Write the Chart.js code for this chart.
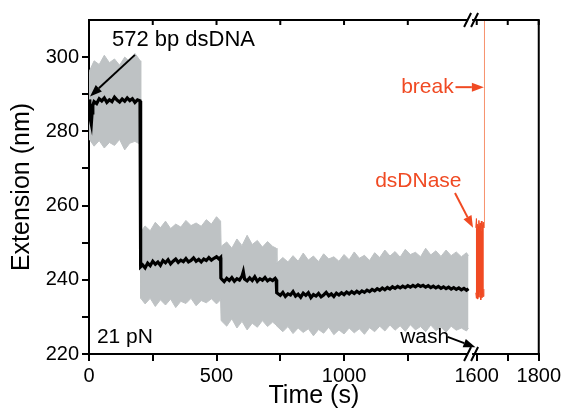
<!DOCTYPE html>
<html>
<head>
<meta charset="utf-8">
<script src="https://cdn.jsdelivr.net/npm/chart.js@4.4.0/dist/chart.umd.min.js"></script>
<style>
  body { margin: 0; background: #fff; }
</style>
</head>
<body>
<canvas id="ext" width="564" height="413"></canvas>
<script>
// raw trace envelope (grey), time in s, extension in nm
const envT = [0, 20, 40, 60, 80, 100, 120, 140, 160, 180, 201,
  203, 220, 240, 260, 280, 300, 320, 340, 360, 380, 400, 420, 440, 460, 480, 500, 516,
  518, 540, 560, 580, 600, 620, 640, 660, 680, 700, 720, 734,
  737, 760, 780, 800, 820, 840, 860, 880, 900, 920, 940, 960, 980, 1000,
  1020, 1040, 1060, 1080, 1100, 1120, 1140, 1160, 1180, 1200, 1220, 1240, 1260, 1280, 1300,
  1320, 1340, 1360, 1380, 1400, 1420, 1440, 1460, 1480, 1488];
const envHi = [296, 299, 298, 300.5, 298.5, 299.5, 297.8, 300, 298.8, 301, 299,
  253, 254.5, 253.2, 255.5, 254, 255.8, 253.8, 255, 254.2, 256, 254.6, 255.3, 254.4, 256.2, 255, 257, 255.8,
  249, 250.2, 248.5, 251, 249.2, 252, 249.5, 250.6, 248.8, 250.3, 249, 248.5,
  244.5, 246, 244.8, 246.5, 245, 247.2, 245.3, 246.4, 244.9, 247, 245.6, 246.2, 245, 246.8,
  245.4, 247.5, 245.8, 246.6, 245.2, 247.3, 246, 248, 246.4, 247.6, 246.1, 248.2, 246.8, 247.4, 246.2,
  248.5, 246.7, 247.8, 246.3, 248, 246.5, 247.5, 246.2, 247.3, 246.5];
const envLo = [278, 276, 277.5, 275.5, 277, 276.2, 277.8, 275, 276.8, 277.3, 276.5,
  235, 233.5, 235, 232.8, 234.6, 233.2, 234.8, 232.5, 234.2, 233.6, 235, 233, 234.4, 233.8, 234.9, 233.5, 234.6,
  229, 227.5, 229.5, 227, 228.8, 226.5, 228.3, 227.2, 229, 227.4, 228.6, 227.8,
  227.5, 226, 227.4, 225.5, 227, 225.8, 226.8, 224.9, 226.6, 225.6, 227.2, 225.2, 226.5, 225.4,
  227, 225.7, 226.8, 225.3, 227.1, 226, 227.5, 226.2, 227.8, 226.4, 227.6, 226.1, 227.9, 226.5, 227.4,
  226, 227.8, 226.3, 227.2, 225.9, 227.5, 226.4, 227, 226.2, 227];

// smoothed trace (black)
const smoothT = [0, 3, 6, 9, 12, 15, 20, 30, 40, 50, 60, 70, 80, 90, 100, 110, 120, 130, 140, 150, 160, 170, 180, 190, 200, 202,
  203, 210, 220, 230, 240, 250, 260, 270, 280, 290, 300, 310, 320, 330, 340, 350, 360, 370, 380, 390, 400,
  410, 420, 430, 440, 450, 460, 470, 480, 490, 500, 510, 516,
  517, 520, 530, 540, 550, 560, 570, 580, 590, 600, 605, 610, 620, 630, 640, 650, 660, 670, 680, 690, 700, 710, 720, 730, 734,
  736, 740, 750, 760, 770, 780, 790, 800, 810, 820, 830, 840, 850, 860, 870, 880, 890, 900, 910, 920, 930, 940, 950, 960, 970, 980, 990,
  1000, 1010, 1020, 1030, 1040, 1050, 1060, 1070, 1080, 1090, 1100, 1110, 1120, 1130, 1140, 1150, 1160, 1170, 1180, 1190,
  1200, 1210, 1220, 1230, 1240, 1250, 1260, 1270, 1280, 1290, 1300, 1310, 1320, 1330, 1340, 1350, 1360, 1370, 1380, 1390,
  1400, 1410, 1420, 1430, 1440, 1450, 1460, 1470, 1480, 1488];
const smoothY = [288.6, 286, 283, 282, 285, 287, 288, 287.5, 288.8, 288.2, 289, 287.8, 288.5, 288, 289.2, 288.4, 287.9, 288.7, 288.1, 289, 288.3, 288.8, 287.8, 288.5, 288.2, 288,
  243.5, 244, 243.2, 244.5, 243.8, 245, 244.2, 244.8, 243.9, 245.2, 244.6, 245.4, 244.3, 245, 245.6, 244.7, 245.3, 244.9, 245.7, 244.8, 245.2,
  245.9, 245, 245.5, 244.8, 245.6, 245.2, 246, 245.3, 245.8, 246.2, 245.6, 246,
  240.5, 240.2, 239.5, 240.4, 239.8, 240.6, 239.6, 240.3, 239.9, 241, 242.2, 240.2, 239.7, 240.5, 239.8, 240.8, 239.6, 240.3, 239.9, 240.6, 239.7, 240.2, 239.8, 240.4, 240,
  236.5, 236.3, 235.8, 236.6, 235.5, 236.2, 235.9, 236.8, 235.6, 236.1, 235.3, 236.4, 235.8, 236.5, 235.2, 236, 235.6, 236.3, 235.4, 235.9, 236.6, 235.7, 236.2, 235.5, 236.4, 235.9, 236.5,
  236, 236.7, 236.2, 236.8, 236.3, 236.9, 236.4, 237, 236.6, 237.2, 236.8, 237.4, 237, 237.6, 237.2, 237.8, 237.3, 237.9, 237.5, 238.1,
  237.7, 238.2, 237.8, 238.3, 237.9, 238.4, 238, 238.5, 238.1, 238.6, 238.2, 238.5, 238, 238.4, 237.9, 238.3, 237.8, 238.2, 237.7, 238.1,
  237.6, 238, 237.5, 237.9, 237.4, 237.8, 237.3, 237.7, 237.2, 237.6];

// dsDNase burst (red) and the rupture line
const redT = [1597, 1599, 1601, 1603, 1605, 1607, 1609, 1611, 1613, 1615, 1617, 1619, 1621, 1623];
const redHi = [254, 256.5, 253.5, 255, 254.2, 256, 253.8, 255.3, 254.6, 255.8, 253.2, 254.8, 255.5, 254];
const redLo = [236.5, 235, 237, 234.8, 236.2, 235.3, 237.2, 235.6, 234.6, 236.4, 235.2, 236.8, 235.5, 237.5];
const breakT = 1625;
const breakY = [254, 312];

const xTickTimes = [0, 250, 500, 750, 1000, 1250, 1600, 1700, 1800];
const xTickLabels = ['0', '', '500', '', '1000', '', '1600', '', '1800'];
const yTicks = [220, 230, 240, 250, 260, 270, 280, 290, 300];

// broken time axis: 0..1502 then 1585..1800 (stretched)
const LEFT_END = 1502, RIGHT_START = 1585, RIGHT_STRETCH = 1.216;
function brk(t) {
  return t <= LEFT_END ? t : LEFT_END + (t - RIGHT_START) * RIGHT_STRETCH;
}

const RED = '#f04a23';
const GREY = '#bec2c4';
const FONT = '"Liberation Sans", Arial, sans-serif';

const notes = [
  {text: '572 bp dsDNA', t: 90, v: 304.6, color: '#000', size: 22},
  {text: '21 pN', t: 31, v: 224.6, color: '#000', size: 21},
  {text: 'wash', t: 1220, v: 224.6, color: '#000', size: 21},
  {text: 'break', t: 1224, v: 291.9, color: RED, size: 21},
  {text: 'dsDNase', t: 1122, v: 266.6, color: RED, size: 21}
];
const arrows = [
  {from: [180, 300.6], to: [4, 289.4], color: '#000'},
  {from: [1406, 224.6], to: [1596, 221.8], color: '#000'},
  {from: [1437, 291.9], to: [1623, 291.9], color: RED},
  {from: [1435, 263.4], to: [1588, 254], color: RED}
];

function pts(ts, ys) {
  return ts.map((t, i) => ({x: brk(t), y: ys[i]}));
}

function drawArrow(ctx, x0, y0, x1, y1, color) {
  const a = Math.atan2(y1 - y0, x1 - x0);
  const L = 12, W = 4.5;
  const bx = x1 - L * Math.cos(a), by = y1 - L * Math.sin(a);
  ctx.strokeStyle = color;
  ctx.fillStyle = color;
  ctx.lineWidth = 2;
  ctx.beginPath();
  ctx.moveTo(x0, y0);
  ctx.lineTo(bx, by);
  ctx.stroke();
  ctx.beginPath();
  ctx.moveTo(x1, y1);
  ctx.lineTo(bx + W * Math.sin(a), by - W * Math.cos(a));
  ctx.lineTo(bx - W * Math.sin(a), by + W * Math.cos(a));
  ctx.closePath();
  ctx.fill();
}

const decor = {
  id: 'decor',
  afterDraw(chart) {
    const {ctx, chartArea: a, scales} = chart;
    const px = t => scales.x.getPixelForValue(brk(t));
    const py = v => scales.y.getPixelForValue(v);
    ctx.save();
    // top and right frame
    ctx.strokeStyle = '#000';
    ctx.lineWidth = 2;
    ctx.beginPath();
    ctx.moveTo(a.left - 1, a.top);
    ctx.lineTo(a.right, a.top);
    ctx.lineTo(a.right, a.bottom + 1);
    ctx.stroke();
    // inward ticks on the top edge
    ctx.beginPath();
    scales.x.ticks.forEach(tk => {
      const x = scales.x.getPixelForValue(tk.value);
      ctx.moveTo(x, a.top);
      ctx.lineTo(x, a.top + 5);
    });
    ctx.stroke();
    // axis break marks
    const cx = scales.x.getPixelForValue(LEFT_END);
    [a.top, a.bottom].forEach(ay => {
      ctx.fillStyle = '#fff';
      ctx.fillRect(cx - 4, ay - 2, 4, 4);
      ctx.strokeStyle = '#000';
      ctx.lineWidth = 2;
      ctx.beginPath();
      ctx.moveTo(cx - 8, ay + 7);
      ctx.lineTo(cx - 1, ay - 7);
      ctx.moveTo(cx - 1, ay + 7);
      ctx.lineTo(cx + 6, ay - 7);
      ctx.stroke();
    });
    // labels and arrows
    ctx.textBaseline = 'middle';
    ctx.textAlign = 'left';
    notes.forEach(n => {
      ctx.font = n.size + 'px ' + FONT;
      ctx.fillStyle = n.color;
      ctx.fillText(n.text, px(n.t), py(n.v));
    });
    arrows.forEach(r => {
      drawArrow(ctx, px(r.from[0]), py(r.from[1]), px(r.to[0]), py(r.to[1]), r.color);
    });
    ctx.restore();
  }
};

const axisFont = {family: FONT, size: 20};

new Chart(document.getElementById('ext'), {
  type: 'line',
  data: {
    datasets: [
      {data: pts(envT, envHi), borderColor: GREY, borderWidth: 1, pointRadius: 0, fill: false, order: 5},
      {data: pts(envT, envLo), borderColor: GREY, borderWidth: 1, pointRadius: 0, fill: '-1', backgroundColor: GREY, order: 5},
      {data: pts(smoothT, smoothY), borderColor: '#000', borderWidth: 3.2, pointRadius: 0, fill: false, order: 1},
      {data: pts(redT, redHi), borderColor: RED, borderWidth: 1, pointRadius: 0, fill: false, order: 3},
      {data: pts(redT, redLo), borderColor: RED, borderWidth: 1, pointRadius: 0, fill: '-1', backgroundColor: RED, order: 3},
      {data: breakY.map(v => ({x: brk(breakT), y: v})), borderColor: '#f7916c', borderWidth: 1, pointRadius: 0, fill: false, order: 2}
    ]
  },
  options: {
    responsive: false,
    animation: false,
    devicePixelRatio: 1,
    layout: {padding: {top: 20, right: 25, left: 0, bottom: 0}},
    plugins: {legend: {display: false}, tooltip: {enabled: false}},
    elements: {line: {tension: 0}},
    scales: {
      x: {
        type: 'linear',
        min: 0,
        max: brk(1800),
        afterFit: s => { s.height = 59; },
        afterBuildTicks: s => { s.ticks = xTickTimes.map(t => ({value: brk(t)})); },
        ticks: {
          autoSkip: false, maxRotation: 0, padding: 3, color: '#000', font: axisFont,
          callback: (v, i) => xTickLabels[i]
        },
        grid: {drawOnChartArea: false, color: '#000', lineWidth: 2, tickLength: 7},
        border: {color: '#000', width: 2},
        title: {display: true, text: 'Time (s)', color: '#000', font: {family: FONT, size: 25}, padding: {top: 0, bottom: 2}}
      },
      y: {
        type: 'linear',
        min: 220,
        max: 310,
        afterFit: s => { s.width = 89; },
        afterBuildTicks: s => { s.ticks = yTicks.map(v => ({value: v})); },
        ticks: {
          padding: 3, color: '#000', font: axisFont,
          callback: v => (v % 20 === 0 ? String(v) : '')
        },
        grid: {drawOnChartArea: false, color: '#000', lineWidth: 2, tickLength: 7},
        border: {color: '#000', width: 2},
        title: {display: true, text: 'Extension (nm)', color: '#000', font: {family: FONT, size: 25}, padding: {top: 7, bottom: 0}}
      }
    }
  },
  plugins: [decor]
});
</script>
</body>
</html>
